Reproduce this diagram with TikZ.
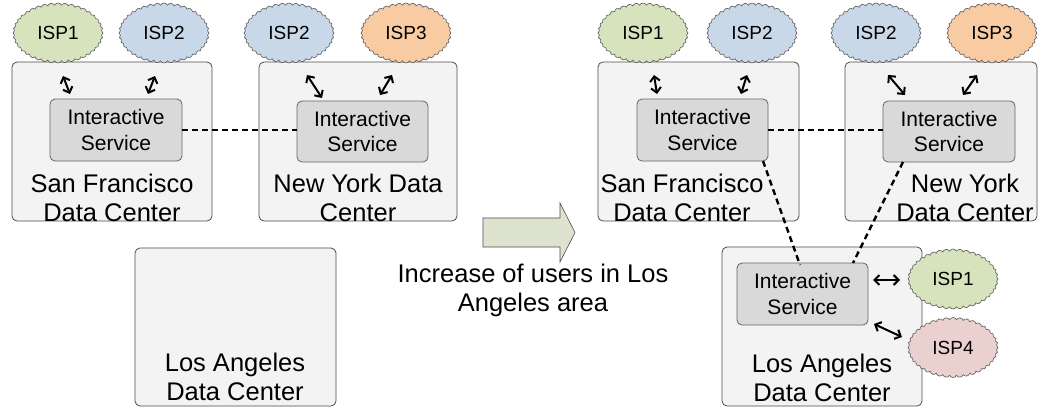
\documentclass[tikz,border=0pt]{standalone}
\usepackage{fontspec}
\setmainfont{Liberation Sans}
\usetikzlibrary{shapes.symbols,arrows.meta}
\definecolor{ispgreen}{HTML}{D6E3BC}
\definecolor{ispblue}{HTML}{C9D8E9}
\definecolor{isporange}{HTML}{F9CBA2}
\definecolor{isppink}{HTML}{EBD0D0}
\definecolor{dcfill}{HTML}{F3F3F3}
\definecolor{svcfill}{HTML}{D9D9D9}
\definecolor{arrowfill}{HTML}{DEE3CF}
\tikzset{
  dc/.style={draw=black!70, fill=dcfill, rounded corners=5pt, line width=0.8pt},
  svc/.style={draw=black!60, fill=svcfill, rounded corners=5pt, line width=0.8pt,
    align=center, font=\fontsize{21}{25.5}\selectfont, inner sep=0pt},
  isp/.style={cloud, cloud puffs=40, cloud puff arc=130, cloud ignores aspect,
    minimum width=90pt, minimum height=60pt, draw=black!65, line width=0.6pt,
    inner sep=0pt, font=\fontsize{19}{22}\selectfont},
  dclabel/.style={align=center, font=\fontsize{25.5}{28.5}\selectfont, inner sep=0pt},
  link/.style={{Straight Barb[length=5pt,width=10pt]}-{Straight Barb[length=5pt,width=10pt]}, line width=2pt},
  peer/.style={dash pattern=on 6pt off 4pt, line width=2.4pt},
}
\begin{document}
\begin{tikzpicture}[x=1pt,y=-1pt]
\useasboundingbox (0,0) rectangle (1039,407);
\fill[white] (0,0) rectangle (1039,407);

% ---------- before ----------
\draw[dc] (12,62) rectangle (212,221);
\draw[dc] (259,62) rectangle (457,221);
\draw[dc] (135,248) rectangle (336,406);

\node[svc, minimum width=132pt, minimum height=62pt] (sfA) at (116,130) {Interactive\\Service};
\node[svc, minimum width=131pt, minimum height=61pt] (nyA) at (362.5,131.5) {Interactive\\Service};

\node[isp, fill=ispgreen] (sfAi1) at (58,33) {ISP1};
\node[isp, fill=ispblue] (sfAi2) at (164,33) {ISP2};
\node[isp, fill=ispblue] (nyAi2) at (289,33) {ISP2};
\node[isp, fill=isporange] (nyAi3) at (406,33) {ISP3};

\node[dclabel] (sfAl) at (112,198) {San Francisco\\Data Center};
\node[dclabel] (nyAl) at (358,198) {New York Data\\Center};
\node[dclabel] (laAl) at (235,377) {Los Angeles\\Data Center};

\coordinate (a1s) at (63,76);  \coordinate (a1e) at (70,94);
\coordinate (a2s) at (155,76); \coordinate (a2e) at (148,94);
\coordinate (a3s) at (307,75); \coordinate (a3e) at (322,98);
\coordinate (a4s) at (392,75); \coordinate (a4e) at (380,95);
\draw[link] (a1s) -- (a1e);
\draw[link] (a2s) -- (a2e);
\draw[link] (a3s) -- (a3e);
\draw[link] (a4s) -- (a4e);
\draw[peer] (sfA.east |- 0,130) -- (nyA.west |- 0,130);

% ---------- transition ----------
\draw[draw=black!70, fill=arrowfill, line width=0.6pt]
  (483,218) -- (560,218) -- (560,203) -- (575,232.5) -- (560,262)
  -- (560,247) -- (483,247) -- cycle;
\node[align=center, font=\fontsize{25.5}{29}\selectfont] (cap) at (533,290.5)
  {Increase of users in Los\\Angeles area};

% ---------- after ----------
\draw[dc] (598,62) rectangle (799,221);
\draw[dc] (845,62) rectangle (1037,221);
\draw[dc] (722,247) rectangle (922,406);

\node[svc, minimum width=131pt, minimum height=62pt] (sfB) at (702.5,130) {Interactive\\Service};
\node[svc, minimum width=132pt, minimum height=61pt] (nyB) at (949,131.5) {Interactive\\Service};
\node[svc, minimum width=131pt, minimum height=62pt] (laB) at (802.5,294) {Interactive\\Service};

\node[isp, fill=ispgreen] (sfBi1) at (643,33) {ISP1};
\node[isp, fill=ispblue] (sfBi2) at (752,33) {ISP2};
\node[isp, fill=ispblue] (nyBi2) at (876,33) {ISP2};
\node[isp, fill=isporange] (nyBi3) at (992,33) {ISP3};
\node[isp, fill=ispgreen] (laBi1) at (953,279) {ISP1};
\node[isp, fill=isppink] (laBi4) at (953,347.5) {ISP4};

\node[dclabel] (sfBl) at (682,198) {San Francisco\\Data Center};
\node[dclabel] (nyBl) at (965,198) {New York\\Data Center};
\node[dclabel] (laBl) at (822,378) {Los Angeles\\Data Center};

\coordinate (b1s) at (654,75); \coordinate (b1e) at (657,94);
\coordinate (b2s) at (747,75); \coordinate (b2e) at (741,94);
\coordinate (b3s) at (888,75); \coordinate (b3e) at (905,95);
\coordinate (b4s) at (977,75); \coordinate (b4e) at (963,95);
\coordinate (b5s) at (873,280); \coordinate (b5e) at (900,280);
\coordinate (b6s) at (874,324); \coordinate (b6e) at (902,337);
\draw[link] (b1s) -- (b1e);
\draw[link] (b2s) -- (b2e);
\draw[link] (b3s) -- (b3e);
\draw[link] (b4s) -- (b4e);
\draw[link] (b5s) -- (b5e);
\draw[link] (b6s) -- (b6e);

\coordinate (p1) at (763,161); \coordinate (p2) at (800,265);
\coordinate (p3) at (903,162); \coordinate (p4) at (853,263);
\draw[peer] (sfB.east |- 0,130) -- (nyB.west |- 0,130);
\draw[peer] (p1) -- (p2);
\draw[peer] (p3) -- (p4);
\end{tikzpicture}
\end{document}
